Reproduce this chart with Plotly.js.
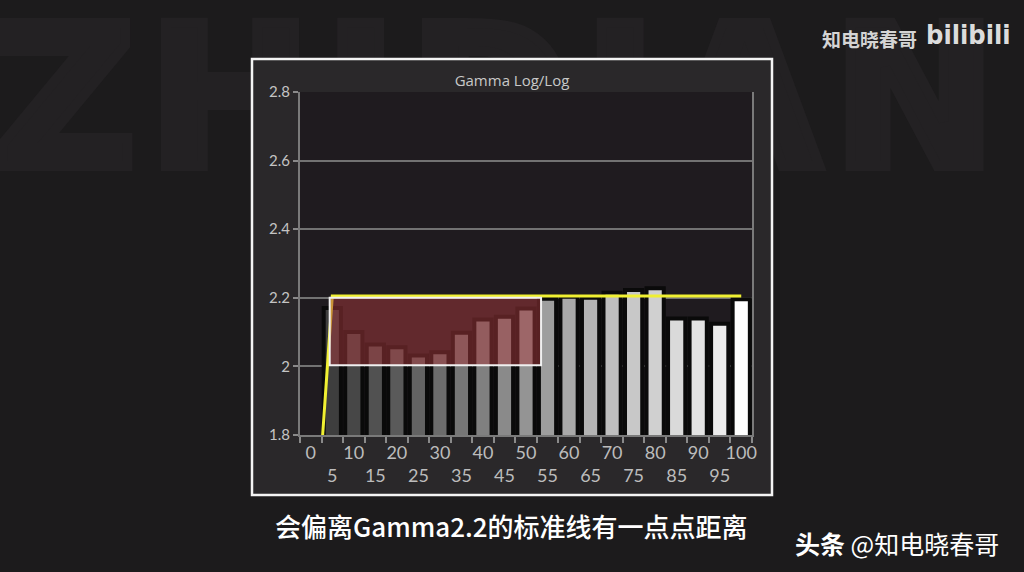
<!DOCTYPE html>
<html>
<head>
<meta charset="utf-8">
<script src="https://cdn.plot.ly/plotly-3.0.1.min.js"></script>
<style>
html,body{margin:0;padding:0;background:#1c1b1c;overflow:hidden;}
#wrap{position:relative;width:1024px;height:572px;overflow:hidden;}
#bgword{position:absolute;left:-6px;top:0px;text-align:left;
  font-family:'DejaVu Sans','Liberation Sans',Arial,sans-serif;font-weight:bold;font-size:196px;
  color:#232123;-webkit-text-stroke:10px #232123;letter-spacing:12px;line-height:1;white-space:nowrap;}
#chart{position:absolute;left:0;top:0;width:1024px;height:572px;}
</style>
</head>
<body>
<div id="wrap">
<div id="bgword"></div>
<div id="chart"></div>
</div>
<script>
// ---- data ----
var categories = ["0","5","10","15","20","25","30","35","40","45","50","55","60","65","70","75","80","85","90","95","100"];
var measuredGamma = [null,2.17,2.10,2.064,2.056,2.032,2.041,2.098,2.137,2.145,2.169,2.197,2.203,2.20,2.215,2.223,2.228,2.14,2.14,2.124,2.196];
var targetGamma = [1.3,2.205,2.205,2.205,2.205,2.205,2.205,2.205,2.205,2.205,2.205,2.205,2.205,2.205,2.205,2.205,2.205,2.205,2.205,2.205,2.205];
var tickLabels = ["0","<br>5","10","<br>15","20","<br>25","30","<br>35","40","<br>45","50","<br>55","60","<br>65","70","<br>75","80","<br>85","90","<br>95","100"];
var chartTitle = "Gamma Log/Log";
var captionText = "会偏离Gamma2.2的标准线有一点点距离";
var creditText = "<b>头条</b> @知电晓春哥";
var watermarkText = "知电晓春哥";
var logoText = "bilibili";
var bgWord = "ZHIDIAN";

// ---- styles ----
var barColors = ["#000","#3e3e3e","#474747","#515151","#5a5a5a","#636363","#6c6c6c","#767676","#808080","#8a8a8a","#949494","#9e9e9e","#a9a9a9","#b4b4b4","#bfbfbf","#c8c8c8","#d0d0d0","#dadada","#e3e3e3","#ececec","#ffffff"];

document.getElementById("bgword").textContent = bgWord;

var W = 1024, H = 572;
function px(x){return x/W;}
function py(y){return 1 - y/H;}

var traces = [
  {
    type: "bar",
    x: categories,
    y: measuredGamma,
    width: 0.8,
    marker: {color: barColors, line: {color: "#0a0a0a", width: 4}},
    hoverinfo: "x+y"
  },
  {
    type: "scatter",
    mode: "lines",
    x: categories,
    y: targetGamma,
    line: {color: "#f0f032", width: 3},
    cliponaxis: true,
    hoverinfo: "skip"
  }
];

var layout = {
  width: W, height: H,
  margin: {l:0, r:0, t:0, b:0},
  paper_bgcolor: "rgba(0,0,0,0)",
  plot_bgcolor: "rgba(0,0,0,0)",
  showlegend: false,
  bargap: 0,
  font: {family: "Lato, 'Open Sans', sans-serif", color: "#c4c4c4"},
  title: {
    text: chartTitle,
    x: 0.5, xanchor: "center",
    y: py(81), yanchor: "middle",
    font: {family: "'Open Sans', sans-serif", size: 15, color: "#c8c8c8"}
  },
  xaxis: {
    domain: [px(300), px(752)],
    type: "category",
    tickmode: "array",
    tickvals: categories,
    ticktext: tickLabels,
    tickson: "boundaries",
    ticks: "outside", ticklen: 6, tickcolor: "#8a8a8a", tickwidth: 2,
    showgrid: false,
    showline: true, linecolor: "#7a7a7a", linewidth: 2,
    tickfont: {size: 18, color: "#bcbcbc", family: "Lato, sans-serif"},
    tickangle: 0,
    zeroline: false,
    fixedrange: true
  },
  yaxis: {
    domain: [py(435), py(92)],
    range: [1.8, 2.8],
    dtick: 0.2, tick0: 1.8,
    ticks: "outside", ticklen: 5, tickcolor: "#8a8a8a", tickwidth: 2,
    showgrid: true, gridcolor: "#727272", gridwidth: 2,
    showline: true, mirror: true, linecolor: "#7a7a7a", linewidth: 2,
    tickfont: {size: 15, color: "#c4c4c4", family: "Lato, sans-serif"},
    zeroline: false,
    fixedrange: true
  },
  shapes: [
    {type:"rect", xref:"paper", yref:"paper", layer:"below",
     x0: px(252), x1: px(772), y0: py(495), y1: py(59),
     fillcolor:"#2a282a", line:{color:"#f4f4f4", width:2.5}},
    {type:"rect", xref:"paper", yref:"paper", layer:"below",
     x0: px(300), x1: px(752), y0: py(435), y1: py(92),
     fillcolor:"#1f1b1f", line:{width:0}},
    {type:"rect", xref:"x", yref:"y", layer:"above",
     x0: 0.88, x1: 10.7, y0: 2.003, y1: 2.2,
     fillcolor:"rgba(165,55,60,0.5)", line:{color:"#f0f0f0", width:2}}
  ],
  annotations: [
    {xref:"paper", yref:"paper", x: px(869), y: py(38), xanchor:"center", yanchor:"middle",
     text: watermarkText, showarrow:false,
     font:{family:"'Noto Sans CJK SC', sans-serif", size:19, weight:600, color:"#d4d4d4"}},
    {xref:"paper", yref:"paper", x: px(968), y: py(35), xanchor:"center", yanchor:"middle",
     text: "<b>"+logoText+"</b>", showarrow:false,
     font:{family:"'DejaVu Sans Condensed', 'DejaVu Sans', sans-serif", size:27, color:"#dcdcdc"}},
    {xref:"paper", yref:"paper", x: px(511), y: py(525), xanchor:"center", yanchor:"middle",
     text: captionText, showarrow:false,
     font:{family:"'Noto Sans CJK SC', sans-serif", size:26, weight:500, color:"#ffffff"}},
    {xref:"paper", yref:"paper", x: px(897), y: py(543), xanchor:"center", yanchor:"middle",
     text: creditText, showarrow:false,
     font:{family:"'Noto Sans CJK SC', sans-serif", size:25, color:"#ffffff"}}
  ]
};

Plotly.newPlot("chart", traces, layout, {displayModeBar:false, staticPlot:true});
</script>
</body>
</html>
